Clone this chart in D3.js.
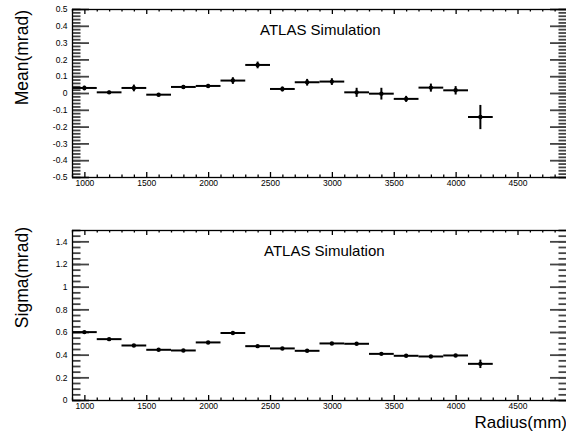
<!DOCTYPE html>
<html>
<head>
<meta charset="utf-8">
<script src="https://cdn.jsdelivr.net/npm/d3@7"></script>
<style>
  body { margin: 0; background: #fff; }
  svg { display: block; }
</style>
</head>
<body>
<div id="chart"></div>
<script>
// Bin centres (mm) and per-bin values
var radius = [1000, 1200, 1400, 1600, 1800, 2000, 2200, 2400, 2600, 2800, 3000, 3200, 3400, 3600, 3800, 4000, 4200]
var binWidth = 200

var meanVals = [0.030, 0.004, 0.030, -0.010, 0.036, 0.042, 0.074, 0.167, 0.024, 0.064, 0.068, 0.004, -0.004, -0.035, 0.032, 0.016, -0.143]
var meanErrs = [0.014, 0.010, 0.020, 0.010, 0.012, 0.012, 0.020, 0.020, 0.015, 0.020, 0.020, 0.027, 0.035, 0.018, 0.024, 0.025, 0.072]

var sigmaVals = [0.599, 0.537, 0.481, 0.443, 0.437, 0.508, 0.591, 0.475, 0.455, 0.434, 0.499, 0.496, 0.407, 0.390, 0.384, 0.393, 0.319]
var sigmaErrs = [0.010, 0.008, 0.008, 0.008, 0.008, 0.008, 0.008, 0.008, 0.008, 0.008, 0.008, 0.008, 0.010, 0.008, 0.008, 0.008, 0.037]

// Tick labels
var xMajor = [1000, 1500, 2000, 2500, 3000, 3500, 4000, 4500]
var meanTicks = [-0.5, -0.4, -0.3, -0.2, -0.1, 0, 0.1, 0.2, 0.3, 0.4, 0.5]
var sigmaTicks = [0, 0.2, 0.4, 0.6, 0.8, 1, 1.2, 1.4]

var width = 566, height = 432
var font = "'Liberation Sans', Arial, Helvetica, sans-serif"

var svg = d3.select("#chart")
    .append("svg")
    .attr("width", width)
    .attr("height", height)

// shared x scale
var x = d3.scaleLinear()
    .domain([900, 4900])
    .range([72, 567])

var xMinor = d3.range(900, 4901, 100).filter(function(v) { return v % 500 !== 0 })

// ----------------- //
// one panel
// ----------------- //
function panel(cfg) {
    var y = d3.scaleLinear()
        .domain(cfg.domain)
        .range([cfg.bottom, cfg.top])

    var g = svg.append("g")

    // minor y ticks, left and right
    var yMinor = d3.range(cfg.domain[0], cfg.domain[1] + 1e-9, cfg.minorStep)
        .map(function(v) { return +v.toFixed(4) })
    g.append("g")
        .attr("class", "ytick")
        .attr("transform", "translate(" + x.range()[0] + ",0)")
        .call(d3.axisLeft(y).tickValues(yMinor).tickSize(-8.5).tickFormat(""))
    g.append("g")
        .attr("class", "ytick")
        .attr("transform", "translate(" + x.range()[1] + ",0)")
        .call(d3.axisRight(y).tickValues(yMinor).tickSize(-8.5).tickFormat(""))

    // major y ticks with labels
    g.append("g")
        .attr("class", "ytick")
        .attr("transform", "translate(" + x.range()[0] + ",0)")
        .call(d3.axisLeft(y).tickValues(cfg.ticks).tickSize(-17).tickPadding(4.5)
            .tickFormat(function(d) { return String(d) }))
    g.append("g")
        .attr("class", "ytick")
        .attr("transform", "translate(" + x.range()[1] + ",0)")
        .call(d3.axisRight(y).tickValues(cfg.ticks).tickSize(-17).tickFormat(""))

    // x ticks bottom and top
    g.append("g")
        .attr("transform", "translate(0," + cfg.bottom + ")")
        .call(d3.axisBottom(x).tickValues(xMinor).tickSize(-2.5).tickFormat(""))
    g.append("g")
        .attr("transform", "translate(0," + cfg.bottom + ")")
        .call(d3.axisBottom(x).tickValues(xMajor).tickSize(-5).tickPadding(3).tickFormat(d3.format("d")))
    g.append("g")
        .attr("transform", "translate(0," + cfg.top + ")")
        .call(d3.axisTop(x).tickValues(xMinor).tickSize(-2.5).tickFormat(""))
    g.append("g")
        .attr("transform", "translate(0," + cfg.top + ")")
        .call(d3.axisTop(x).tickValues(xMajor).tickSize(-5).tickFormat(""))

    g.selectAll(".domain").remove()
    g.selectAll(".tick line")
        .attr("stroke", "#000")
        .attr("stroke-width", 1.3)
    g.selectAll(".ytick .tick line")
        .attr("stroke", "#444")
        .attr("stroke-width", 1.8)
    g.selectAll("text")
        .attr("font-family", font)
        .attr("font-size", "8.5px")
        .attr("fill", "#000")

    // frame
    g.append("rect")
        .attr("x", x.range()[0] + 0.5)
        .attr("y", cfg.top + 0.5)
        .attr("width", x.range()[1] - x.range()[0])
        .attr("height", cfg.bottom - cfg.top)
        .attr("fill", "none")
        .attr("stroke", "#000")
        .attr("stroke-width", 1.3)

    // data points: bin-wide horizontal bar, vertical error bar, dot
    var pts = g.append("g")
        .selectAll("g")
        .data(radius.map(function(r, i) { return { r: r, v: cfg.vals[i], e: cfg.errs[i] } }))
        .enter()
        .append("g")

    pts.append("line")
        .attr("x1", function(d) { return x(d.r - binWidth / 2) })
        .attr("x2", function(d) { return x(d.r + binWidth / 2) })
        .attr("y1", function(d) { return y(d.v) })
        .attr("y2", function(d) { return y(d.v) })
        .attr("stroke", "#000")
        .attr("stroke-width", 2)
    pts.append("line")
        .attr("x1", function(d) { return x(d.r) })
        .attr("x2", function(d) { return x(d.r) })
        .attr("y1", function(d) { return y(d.v - d.e) })
        .attr("y2", function(d) { return y(d.v + d.e) })
        .attr("stroke", "#000")
        .attr("stroke-width", 2)
    pts.append("circle")
        .attr("cx", function(d) { return x(d.r) })
        .attr("cy", function(d) { return y(d.v) })
        .attr("r", 2.2)
        .attr("fill", "#000")

    // ATLAS label
    g.append("text")
        .attr("x", cfg.labelX)
        .attr("y", cfg.top + 26)
        .attr("font-family", font)
        .attr("font-size", "15px")
        .attr("fill", "#000")
        .text("ATLAS Simulation")

    // y title, rotated, right-aligned to panel top
    g.append("text")
        .attr("transform", "translate(28," + cfg.titleEnd + ") rotate(-90)")
        .attr("text-anchor", "end")
        .attr("font-family", font)
        .attr("font-size", "17.5px")
        .attr("fill", "#000")
        .text(cfg.title)
}

panel({
    domain: [-0.5, 0.5], top: 9, bottom: 177, minorStep: 0.02,
    ticks: meanTicks, vals: meanVals, errs: meanErrs,
    title: "Mean(mrad)", titleEnd: 10, labelX: 260
})

panel({
    domain: [0, 1.5], top: 230, bottom: 400, minorStep: 0.05,
    ticks: sigmaTicks, vals: sigmaVals, errs: sigmaErrs,
    title: "Sigma(mrad)", titleEnd: 227, labelX: 264
})

// x title
svg.append("text")
    .attr("x", 567)
    .attr("y", 428)
    .attr("text-anchor", "end")
    .attr("font-family", font)
    .attr("font-size", "17px")
    .attr("fill", "#000")
    .text("Radius(mm)")
</script>
</body>
</html>
